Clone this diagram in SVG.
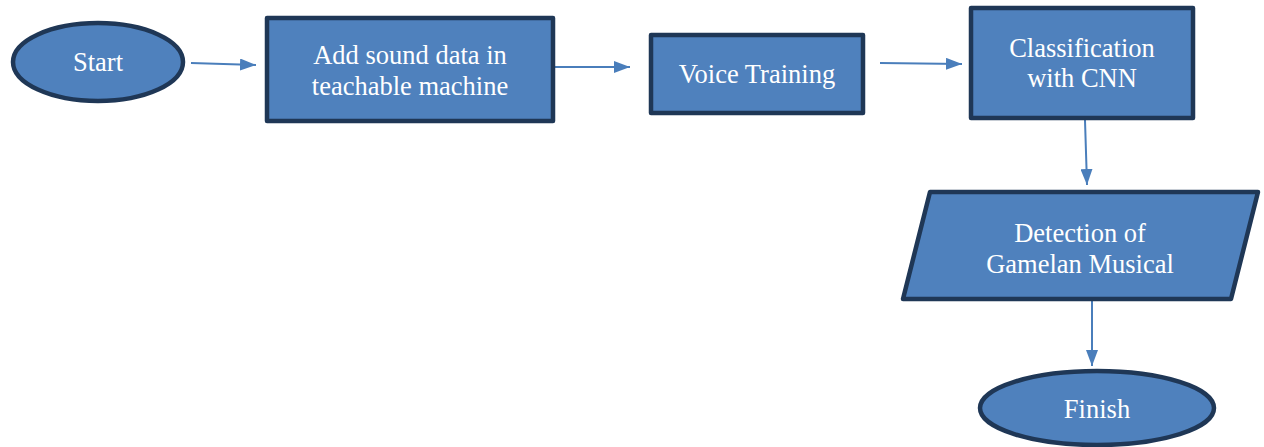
<svg xmlns="http://www.w3.org/2000/svg" width="1264" height="447" viewBox="0 0 1264 447">
<style>
.n{fill:#4F81BD;stroke:#1F3756;stroke-width:4.5;stroke-linejoin:round}
.t{fill:#fff;font-family:"Liberation Serif",serif;font-size:26.5px;text-anchor:middle}
.c{stroke:#4A7EBB;stroke-width:2;fill:none;marker-end:url(#a)}
</style>
<defs>
<marker id="a" markerWidth="16" markerHeight="12" refX="16" refY="6" orient="auto" markerUnits="userSpaceOnUse">
<path d="M0,0 L16,6 L0,12 Z" fill="#4A7EBB"/>
</marker>
</defs>
<rect width="1264" height="447" fill="#fff"/>
<g id="connectors">
<line class="c" x1="191" y1="63" x2="256" y2="65"/>
<line class="c" x1="553" y1="67" x2="630" y2="67"/>
<line class="c" x1="880" y1="63" x2="962" y2="64"/>
<line class="c" x1="1085" y1="120" x2="1087" y2="185"/>
<line class="c" x1="1092" y1="301" x2="1092" y2="366"/>
</g>
<g id="start">
<ellipse class="n" cx="98" cy="62" rx="85" ry="39"/>
<text class="t" x="98" y="71">Start</text>
</g>
<g id="add-sound">
<rect class="n" x="267" y="18" width="286" height="103"/>
<text class="t" x="410" y="64">Add sound data in</text>
<text class="t" x="410" y="95">teachable machine</text>
</g>
<g id="voice-training">
<rect class="n" x="651" y="35" width="212" height="78"/>
<text class="t" x="757" y="83">Voice Training</text>
</g>
<g id="classification">
<rect class="n" x="971" y="8" width="222" height="110"/>
<text class="t" x="1082" y="57">Classification</text>
<text class="t" x="1082" y="87">with CNN</text>
</g>
<g id="detection">
<polygon class="n" points="930,192 1258,192 1231,299 903,299"/>
<text class="t" x="1080" y="242">Detection of</text>
<text class="t" x="1080" y="273">Gamelan Musical</text>
</g>
<g id="finish">
<ellipse class="n" cx="1097" cy="408" rx="117" ry="37"/>
<text class="t" x="1097" y="418">Finish</text>
</g>
</svg>
